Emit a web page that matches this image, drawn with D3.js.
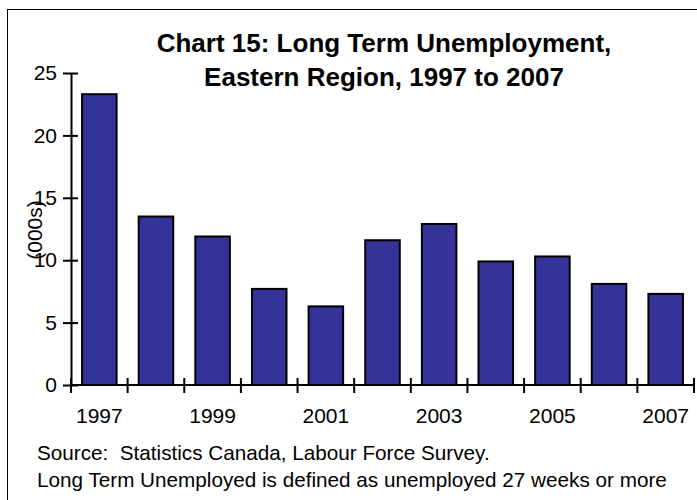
<!DOCTYPE html>
<html><head><meta charset="utf-8">
<script src="https://cdn.jsdelivr.net/npm/d3@7"></script>
<style>body{margin:0;background:#fff}svg{display:block}text{font-family:Arial,"Liberation Sans",sans-serif;white-space:pre}</style>
</head><body>
<script>
const years = ["1997","1998","1999","2000","2001","2002","2003","2004","2005","2006","2007"];
const values = [23.3, 13.5, 11.9, 7.7, 6.3, 11.6, 12.9, 9.9, 10.3, 8.1, 7.3];
const yTicks = [0,5,10,15,20,25];
const xLabels = ["1997","1999","2001","2003","2005","2007"];
const titleLines = ["Chart 15: Long Term Unemployment,","Eastern Region, 1997 to 2007"];
const footLines = ["Source:  Statistics Canada, Labour Force Survey.","Long Term Unemployed is defined as unemployed 27 weeks or more"];

const W=697,H=500;
const svg=d3.select("body").append("svg").attr("width",W).attr("height",H);
svg.append("rect").attr("x",7.5).attr("y",9.5).attr("width",700).attr("height",500)
  .attr("fill","none").attr("stroke","#000").attr("stroke-width",1);

const x0=71,x1=694,y0=385,y1=73;
const x=d3.scaleBand().domain(years).range([x0,x1]).paddingInner(0.39).paddingOuter(0.195);
const y=d3.scaleLinear().domain([0,25]).range([y0,y1]);

svg.selectAll("rect.bar").data(values).join("rect").attr("class","bar")
  .attr("x",(d,i)=>x(years[i])).attr("width",x.bandwidth())
  .attr("y",d=>y(d)).attr("height",d=>y0-y(d))
  .attr("fill","#333399").attr("stroke","#000").attr("stroke-width",2);

// y axis
const ya=svg.append("g").attr("transform",`translate(${x0},0)`)
  .call(d3.axisLeft(y).tickValues(yTicks).tickSize(0).tickPadding(14));
ya.select(".domain").attr("stroke","#000").attr("stroke-width",2);
ya.selectAll("text").attr("font-size",21).attr("fill","#000").attr("font-family","Arial, Liberation Sans, sans-serif");
ya.selectAll(".tick").append("line").attr("x1",-8).attr("x2",7).attr("stroke","#000").attr("stroke-width",2);

// x axis
const step=(x1-x0)/years.length;
const xa=svg.append("g").attr("transform",`translate(0,${y0})`);
xa.append("line").attr("x1",x0).attr("x2",x1).attr("stroke","#000").attr("stroke-width",2);
xa.selectAll("line.t").data(d3.range(years.length+1)).join("line").attr("class","t")
  .attr("x1",i=>x0+i*step).attr("x2",i=>x0+i*step).attr("y1",-7).attr("y2",8)
  .attr("stroke","#000").attr("stroke-width",2);
xa.selectAll("text").data(xLabels).join("text")
  .attr("x",d=>x(d)+x.bandwidth()/2).attr("y",38).attr("text-anchor","middle")
  .attr("font-size",21).text(d=>d);

svg.append("text").attr("transform","translate(42,230) rotate(-90)")
  .attr("text-anchor","middle").attr("font-size",21).text("(000s)");

svg.selectAll("text.title").data(titleLines).join("text").attr("class","title")
  .attr("x",384).attr("y",(d,i)=>52+i*34).attr("text-anchor","middle")
  .attr("font-size",26).attr("font-weight","bold").text(d=>d);

svg.selectAll("text.foot").data(footLines).join("text").attr("class","foot")
  .attr("x",37).attr("y",(d,i)=>460+i*27).attr("font-size",20.7).text(d=>d);
</script>
</body></html>
